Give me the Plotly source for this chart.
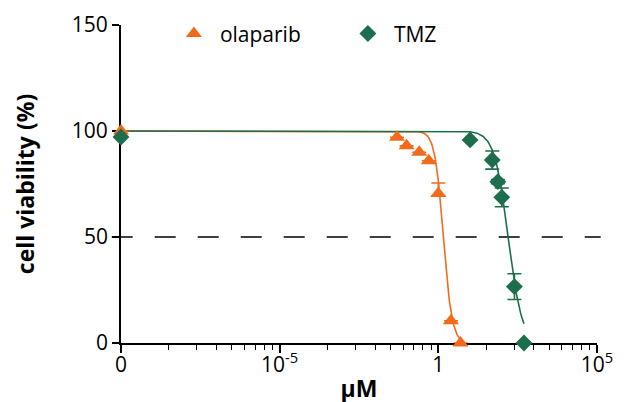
import numpy as np
import plotly.graph_objects as go

# ---- data ----
ZERO_DOSE = 1e-10  # position used for the "0" concentration on the log axis

ola_conc = [ZERO_DOSE, 0.05, 0.1, 0.25, 0.5, 1.0, 2.5, 5.0]
ola_viab = [100.0, 97.0, 93.0, 90.0, 86.0, 70.5, 10.5, 0.0]
ola_err_plus = [0, 0, 0, 0, 0, 5.0, 0, 0]
ola_err_minus = [0, 0, 0, 0, 0, 1.0, 0, 0]

tmz_conc = [ZERO_DOSE, 10, 50, 75, 100, 250, 500]
tmz_viab = [97.2, 95.8, 86.3, 76.1, 68.7, 26.6, 0.0]
tmz_err = [0, 0, 4.3, 1.0, 4.4, 6.1, 0]

# fitted dose-response parameters (top, bottom, logIC50, Hill slope)
ola_fit = dict(top=100.0, bottom=0.0, logic50=0.16, hill=3.2)
tmz_fit = dict(top=100.0, bottom=0.0, logic50=2.20, hill=2.0)

x_tickvals = [1e-10, 1e-5, 1, 1e5]
x_ticktext = ["0", "10<sup>-5</sup>", "1", "10<sup>5</sup>"]
y_tickvals = [0, 50, 100, 150]
minor_k = [2, 3, 4, 5, 6, 7, 8, 9]
major_log = [-10, -5, 0]

ORANGE = "#F26B1D"
GREEN = "#1C6E4C"
FONT = "Open Sans"


def curve(p, xmax):
    xs = np.logspace(-10, np.log10(xmax), 500)
    ys = p["bottom"] + (p["top"] - p["bottom"]) / (1 + 10 ** (p["hill"] * (np.log10(xs) - p["logic50"])))
    return xs, ys


# minor ticks as in the original (log-like spacing inside each 5-decade step)
minor_vals = [10 ** (m + 5 * np.log10(k)) for m in major_log for k in minor_k]

fig = go.Figure()

cx, cy = curve(ola_fit, ola_conc[-1])
fig.add_trace(go.Scatter(x=cx, y=cy, mode="lines", line=dict(color=ORANGE, width=1.6),
                         showlegend=False, hoverinfo="skip", cliponaxis=False))
cx, cy = curve(tmz_fit, tmz_conc[-1])
fig.add_trace(go.Scatter(x=cx, y=cy, mode="lines", line=dict(color=GREEN, width=1.6),
                         showlegend=False, hoverinfo="skip", cliponaxis=False))

fig.add_trace(go.Scatter(
    x=ola_conc, y=ola_viab, mode="markers", name="olaparib",
    marker=dict(symbol="triangle-up", size=14, color=ORANGE),
    error_y=dict(type="data", array=ola_err_plus, arrayminus=ola_err_minus,
                 color=ORANGE, thickness=1.6, width=7),
    cliponaxis=False))
fig.add_trace(go.Scatter(
    x=tmz_conc, y=tmz_viab, mode="markers", name="TMZ",
    marker=dict(symbol="diamond", size=13, color=GREEN),
    error_y=dict(type="data", array=tmz_err, color=GREEN, thickness=1.6, width=7),
    cliponaxis=False))

# 50 % reference line
fig.add_shape(type="line", xref="paper", yref="y", x0=-0.0195, x1=1.0078, y0=50, y1=50,
              line=dict(color="black", width=1.5, dash="21px,22px"), layer="below")

# the page body adds an 8 px offset, so the figure is sized/margined to compensate
fig.update_layout(
    width=618, height=402,
    margin=dict(l=113, r=29, t=17, b=67, autoexpand=False),
    plot_bgcolor="white", paper_bgcolor="white",
    font=dict(family=FONT, size=21, color="black"),
    legend=dict(orientation="h", x=0.0985, xanchor="left", y=0.972, yanchor="middle",
                font=dict(size=21), itemwidth=42, entrywidth=117,
                bgcolor="rgba(0,0,0,0)", itemclick=False),
    showlegend=True,
)
fig.update_xaxes(
    type="log", range=[-10, 5], tickmode="array", tickvals=x_tickvals, ticktext=x_ticktext,
    ticks="outside", ticklen=8, tickwidth=1.5, tickcolor="black",
    showline=True, linewidth=1.8, linecolor="black", showgrid=False, zeroline=False,
    layer="below traces", automargin=False, ticklabelstandoff=-6,
    minor=dict(tickmode="array", tickvals=minor_vals, ticks="outside", ticklen=5,
               tickwidth=1.2, tickcolor="black", showgrid=False),
    title=dict(text="<b>µM</b>", font=dict(size=23), standoff=4),
    tickfont=dict(size=21),
)
fig.update_yaxes(
    range=[0, 150], tickmode="array", tickvals=y_tickvals,
    ticks="outside", ticklen=7, tickwidth=1.5, tickcolor="black",
    showline=True, linewidth=1.8, linecolor="black", showgrid=False, zeroline=False,
    layer="below traces", automargin=False,
    title=dict(text="<b>cell viability (%)</b>", font=dict(size=23), standoff=31),
    tickfont=dict(size=21),
)

fig.write_html("out.html")
